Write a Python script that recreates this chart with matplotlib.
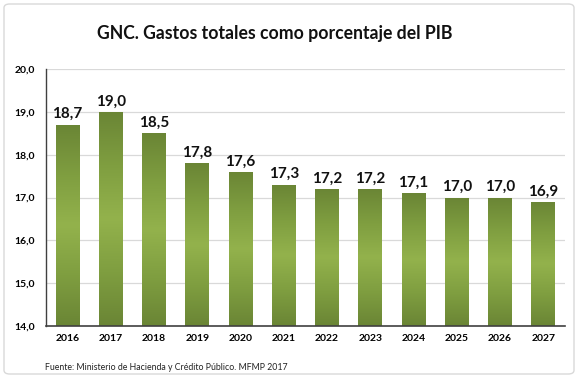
import numpy as np
import matplotlib.pyplot as plt
from matplotlib.colors import LinearSegmentedColormap
from matplotlib.patches import FancyBboxPatch

plt.rcParams['font.family'] = ['Lato', 'DejaVu Sans']

anios = ['2016', '2017', '2018', '2019', '2020', '2021',
         '2022', '2023', '2024', '2025', '2026', '2027']
gasto_pib = [18.7, 19.0, 18.5, 17.8, 17.6, 17.3, 17.2, 17.2, 17.1, 17.0, 17.0, 16.9]
yticks = [14.0, 15.0, 16.0, 17.0, 18.0, 19.0, 20.0]

BASE = 14.0

fig = plt.figure(figsize=(5.77, 3.79), dpi=100)
ax = fig.add_axes([46 / 577, 1 - 326 / 379, 519 / 577, 257 / 379])

# marco redondeado alrededor de todo el grafico
marco = FancyBboxPatch((4 / 577, 5 / 379), 570 / 577, 370 / 379,
                       boxstyle='round,pad=0,rounding_size=0.01',
                       transform=fig.transFigure, facecolor='white',
                       edgecolor='#d9d9d9', linewidth=1.0, zorder=-10)
fig.patches.append(marco)

x = np.arange(len(anios))
alturas = [v - BASE for v in gasto_pib]
barras = ax.bar(x, alturas, bottom=BASE, width=0.55, color='none',
                edgecolor='none', zorder=2)

# degradado verde: oscuro arriba y abajo, claro en el centro
verde = LinearSegmentedColormap.from_list(
    'verde', ['#6a8535', '#7f9e40', '#93b24c', '#7f9e40', '#6a8535'])
grad = np.linspace(0, 1, 256).reshape(-1, 1)
for b in barras:
    x0, y0 = b.get_x(), b.get_y()
    im = ax.imshow(grad, cmap=verde, aspect='auto', origin='lower',
                   extent=[x0, x0 + b.get_width(), y0, y0 + b.get_height()],
                   zorder=2)
    im.set_clip_path(b)

for xi, v in zip(x, gasto_pib):
    ax.text(xi, v + 0.08, f'{v:.1f}'.replace('.', ','), ha='center', va='bottom',
            fontsize=11, fontweight='bold', color='#111111')

ax.set_xlim(-0.5, len(anios) - 0.5)
ax.set_ylim(BASE, 20.0)
ax.set_yticks(yticks)
ax.set_yticklabels([f'{t:.1f}'.replace('.', ',') for t in yticks],
                   fontsize=7.5, fontweight='bold')
ax.set_xticks(x)
ax.set_xticklabels(anios, fontsize=7.5, fontweight='bold')
ax.tick_params(length=0, pad=6)
ax.tick_params(axis='y', pad=8)

ax.grid(axis='y', color='#d9d9d9', linewidth=0.9, zorder=0)
ax.set_axisbelow(True)
for lado in ['top', 'right']:
    ax.spines[lado].set_visible(False)
ax.spines['left'].set_color('#404040')
ax.spines['bottom'].set_color('#404040')
ax.spines['left'].set_linewidth(1.0)
ax.spines['bottom'].set_linewidth(1.2)

fig.text(275 / 577, 1 - 33 / 379, 'GNC. Gastos totales como porcentaje del PIB',
         ha='center', va='center', fontsize=12.7, fontweight='bold', color='#111111')
fig.text(45 / 577, 1 - 367 / 379,
         'Fuente: Ministerio de Hacienda y Crédito Público. MFMP 2017',
         ha='left', va='center', fontsize=6.3, color='#222222')

fig.savefig('out.png', dpi=100)
